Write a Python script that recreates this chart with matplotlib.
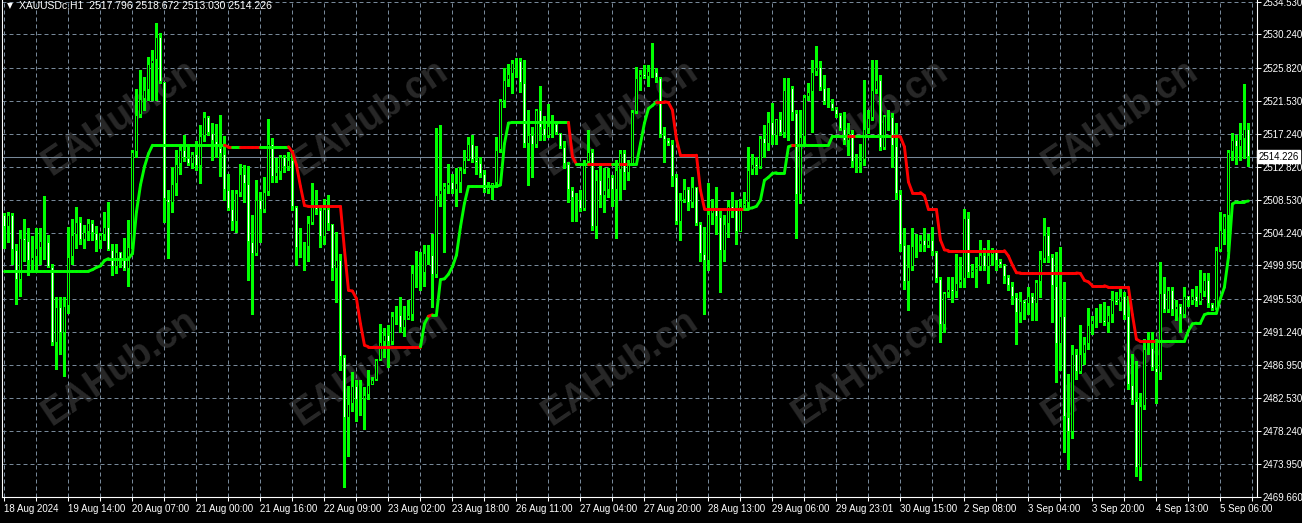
import numpy as np
import matplotlib
matplotlib.use("Agg")
import matplotlib.pyplot as plt
import matplotlib.transforms as mtransforms
from matplotlib.collections import LineCollection

plt.rcParams['font.family'] = ['Liberation Sans', 'DejaVu Sans']

# XAUUSDc H1 candles, one entry per hourly bar (18 Aug 2024 22:00 .. 5 Sep 2024 11:00)
first_open = 2506.5
closes = [
    2505.0, 2506.5, 2502.0, 2498.1, 2503.5, 2503.2, 2500.6, 2501.1, 2502.2, 2503.1,
    2503.0, 2499.8, 2489.8, 2494.5, 2491.1, 2494.7, 2501.1, 2504.0, 2505.6, 2503.3,
    2504.4, 2505.5, 2504.2, 2503.2, 2503.9, 2505.0, 2502.0, 2499.8, 2501.7, 2500.8,
    2499.5, 2502.4, 2514.8, 2519.7, 2521.8, 2522.9, 2526.4, 2526.9, 2529.9, 2524.0,
    2508.6, 2508.2, 2510.6, 2513.3, 2515.1, 2514.0, 2513.3, 2514.5, 2513.0, 2516.9,
    2519.4, 2517.3, 2516.2, 2515.4, 2514.5, 2509.8, 2507.3, 2505.7, 2509.5, 2511.9,
    2510.6, 2503.0, 2501.5, 2508.5, 2507.2, 2509.6, 2515.9, 2511.6, 2512.2, 2514.2,
    2512.8, 2513.75, 2507.6, 2502.3, 2502.1, 2502.4, 2505.5, 2507.6, 2507.2, 2503.7,
    2507.3, 2505.4, 2499.5, 2500.7, 2487.9, 2480.0, 2481.8, 2484.2, 2482.3, 2482.5,
    2483.0, 2484.3, 2485.0, 2487.6, 2489.9, 2490.9, 2489.9, 2493.3, 2493.4, 2491.8,
    2493.0, 2493.4, 2498.9, 2499.1, 2498.9, 2501.6, 2501.3, 2498.7, 2509.2, 2509.8,
    2510.3, 2510.9, 2509.9, 2510.8, 2512.5, 2513.8, 2515.9, 2513.75, 2513.4, 2512.0,
    2509.8, 2510.2, 2510.7, 2515.1, 2521.5, 2524.2, 2525.1, 2526.5, 2526.7, 2523.9,
    2515.9, 2517.0, 2515.7, 2520.3, 2518.0, 2516.9, 2518.2, 2518.5, 2517.25, 2515.5,
    2513.2, 2509.8, 2508.85, 2508.6, 2507.3, 2513.5, 2514.8, 2505.0, 2511.1, 2509.0,
    2509.8, 2511.5, 2509.9, 2512.4, 2514.7, 2512.1, 2513.3, 2520.1, 2524.5, 2525.1,
    2524.7, 2525.4, 2525.35, 2524.5, 2517.0, 2516.4, 2515.9, 2511.6, 2505.7, 2508.5,
    2510.0, 2508.15, 2510.2, 2505.4, 2501.5, 2500.6, 2506.7, 2507.6, 2506.3, 2501.9,
    2505.4, 2507.8, 2507.2, 2504.3, 2507.8, 2508.15, 2512.4, 2513.2, 2512.9, 2516.6,
    2515.9, 2518.8, 2516.9, 2519.1, 2517.25, 2523.0, 2523.15, 2519.9, 2509.2, 2516.8,
    2522.06, 2522.7, 2525.3, 2525.9, 2523.15, 2521.4, 2521.3, 2520.5, 2519.7, 2517.8,
    2516.2, 2517.25, 2513.5, 2513.4, 2513.8, 2517.8, 2519.3, 2523.0, 2524.2, 2515.4,
    2519.5, 2519.4, 2515.6, 2509.3, 2502.6, 2497.8, 2499.7, 2502.5, 2502.6, 2503.3,
    2502.5, 2503.25, 2501.7, 2498.2, 2492.1, 2496.3, 2496.9, 2496.5, 2497.6, 2498.2,
    2506.2, 2498.9, 2499.3, 2499.8, 2501.3, 2499.8, 2501.3, 2501.7, 2500.5, 2500.0,
    2498.4, 2497.2, 2495.8, 2493.7, 2495.3, 2494.9, 2495.9, 2494.9, 2497.8, 2500.85,
    2504.0, 2501.0, 2497.2, 2489.7, 2493.3, 2480.1, 2478.2, 2488.4, 2486.0, 2488.4,
    2489.7, 2492.1, 2492.8, 2492.96, 2492.8, 2492.4, 2493.4, 2495.4, 2495.0, 2495.9,
    2493.3, 2484.3, 2482.2, 2473.4, 2481.6, 2489.0, 2489.2, 2486.5, 2485.8, 2496.3,
    2494.1, 2496.8, 2494.1, 2494.7, 2493.5, 2495.9, 2495.3, 2495.9, 2495.15, 2496.5,
    2498.1, 2494.9, 2494.3, 2502.0, 2504.6, 2506.4, 2514.8, 2516.4, 2515.5, 2516.5,
    2517.796, 2514.226,
]
highs = [
    2506.8, 2506.9, 2506.8, 2502.8, 2504.6, 2506.0, 2504.8, 2503.8, 2504.8, 2504.8,
    2509.0, 2504.0, 2500.1, 2495.8, 2495.8, 2495.8, 2505.0, 2506.0, 2507.6, 2506.3,
    2505.2, 2506.1, 2505.9, 2505.1, 2504.2, 2507.0, 2508.3, 2502.8, 2502.8, 2501.5,
    2503.6, 2505.9, 2515.1, 2523.1, 2525.6, 2524.7, 2527.3, 2528.2, 2531.7, 2530.4,
    2524.0, 2509.8, 2512.9, 2515.1, 2515.9, 2517.0, 2515.7, 2514.8, 2516.2, 2518.3,
    2520.1, 2519.5, 2518.6, 2518.5, 2519.7, 2516.9, 2512.0, 2509.8, 2509.8, 2513.3,
    2513.1, 2513.0, 2506.5, 2511.1, 2509.6, 2511.6, 2519.2, 2516.6, 2514.0, 2514.4,
    2514.4, 2514.8, 2515.1, 2507.8, 2504.8, 2503.0, 2506.4, 2510.7, 2509.9, 2507.6,
    2508.6, 2509.2, 2505.4, 2504.3, 2501.5, 2488.2, 2484.2, 2486.0, 2484.9, 2484.9,
    2484.0, 2486.2, 2485.3, 2487.7, 2492.3, 2491.7, 2492.1, 2493.8, 2494.6, 2495.8,
    2494.7, 2495.4, 2500.0, 2501.9, 2501.7, 2502.6, 2502.6, 2504.1, 2517.9, 2518.4,
    2510.7, 2513.2, 2512.0, 2512.7, 2512.9, 2515.1, 2516.8, 2517.0, 2515.6, 2514.2,
    2512.4, 2510.9, 2510.8, 2516.8, 2521.8, 2525.8, 2526.4, 2526.9, 2527.1, 2527.1,
    2526.9, 2520.3, 2518.1, 2520.5, 2523.5, 2519.5, 2521.1, 2519.6, 2518.1, 2517.3,
    2516.2, 2513.5, 2510.2, 2509.4, 2509.8, 2513.75, 2517.7, 2515.2, 2512.5, 2513.1,
    2512.7, 2512.7, 2511.8, 2513.75, 2515.1, 2515.1, 2513.75, 2520.3, 2526.0, 2525.6,
    2526.2, 2526.2, 2529.1, 2525.8, 2524.7, 2518.1, 2516.6, 2516.4, 2512.0, 2509.4,
    2511.3, 2510.2, 2511.6, 2510.2, 2505.7, 2505.0, 2510.7, 2508.7, 2510.2, 2507.2,
    2506.5, 2508.5, 2509.6, 2508.5, 2508.7, 2509.6, 2515.5, 2514.6, 2514.2, 2516.9,
    2518.3, 2520.0, 2521.2, 2519.2, 2520.1, 2524.5, 2524.5, 2523.4, 2520.3, 2520.3,
    2522.3, 2523.9, 2526.9, 2528.7, 2526.7, 2524.9, 2523.15, 2521.8, 2520.7, 2519.9,
    2520.1, 2518.6, 2517.7, 2514.6, 2515.9, 2524.2, 2520.3, 2526.9, 2526.9, 2524.9,
    2519.65, 2520.3, 2519.9, 2518.6, 2509.8, 2504.8, 2502.6, 2504.8, 2504.1, 2503.9,
    2504.8, 2504.1, 2505.0, 2501.9, 2498.4, 2496.5, 2498.4, 2498.4, 2501.5, 2501.1,
    2507.4, 2507.0, 2500.2, 2501.1, 2503.25, 2502.2, 2503.25, 2502.2, 2501.9, 2500.85,
    2500.2, 2498.7, 2497.8, 2496.3, 2496.5, 2495.4, 2497.1, 2496.3, 2498.0, 2501.9,
    2506.2, 2505.0, 2501.5, 2501.7, 2502.4, 2497.8, 2485.7, 2489.5, 2489.0, 2492.1,
    2490.6, 2494.4, 2493.3, 2494.4, 2494.9, 2495.2, 2494.7, 2496.6, 2496.5, 2496.9,
    2496.5, 2496.0, 2488.4, 2487.5, 2483.3, 2490.3, 2491.2, 2491.2, 2490.3, 2500.4,
    2498.4, 2497.1, 2497.1, 2495.4, 2494.9, 2497.1, 2496.0, 2496.9, 2497.2, 2499.3,
    2498.9, 2498.9, 2495.0, 2502.4, 2507.0, 2506.7, 2515.06, 2517.3, 2517.0, 2518.6,
    2523.7, 2518.672,
]
lows = [
    2502.3, 2503.0, 2500.2, 2494.9, 2496.0, 2500.6, 2498.7, 2499.3, 2499.3, 2500.2,
    2500.8, 2499.7, 2489.5, 2486.4, 2488.4, 2485.5, 2493.7, 2500.2, 2502.3, 2502.8,
    2502.3, 2503.3, 2503.3, 2501.9, 2502.3, 2503.3, 2502.0, 2498.7, 2498.9, 2499.8,
    2499.3, 2497.2, 2502.2, 2514.2, 2519.4, 2520.3, 2521.6, 2521.6, 2521.6, 2523.8,
    2505.7, 2500.9, 2507.0, 2509.2, 2511.9, 2513.7, 2513.1, 2512.7, 2512.5, 2510.8,
    2516.2, 2517.0, 2513.8, 2514.2, 2511.7, 2508.5, 2507.2, 2504.6, 2504.3, 2509.0,
    2508.3, 2498.0, 2493.6, 2501.3, 2503.0, 2507.0, 2509.2, 2510.9, 2510.9, 2511.3,
    2512.2, 2512.5, 2507.2, 2500.0, 2501.1, 2499.3, 2500.6, 2505.4, 2506.75, 2502.4,
    2502.8, 2504.6, 2498.0, 2495.2, 2486.2, 2470.9, 2475.0, 2480.9, 2479.6, 2480.3,
    2478.5, 2482.5, 2484.4, 2484.9, 2487.6, 2487.9, 2486.6, 2489.7, 2492.3, 2491.2,
    2490.7, 2493.0, 2492.75, 2497.1, 2496.7, 2497.3, 2500.2, 2494.5, 2498.4, 2507.8,
    2501.7, 2509.4, 2509.5, 2507.8, 2509.6, 2512.1, 2513.75, 2513.5, 2512.0, 2511.6,
    2509.6, 2509.5, 2508.6, 2510.2, 2514.8, 2520.7, 2523.4, 2522.5, 2524.7, 2522.7,
    2515.5, 2510.5, 2511.6, 2515.5, 2516.4, 2516.4, 2516.8, 2516.8, 2517.2, 2515.3,
    2512.7, 2508.3, 2505.8, 2505.8, 2507.1, 2507.2, 2513.3, 2504.6, 2503.5, 2507.6,
    2507.0, 2508.9, 2507.8, 2503.5, 2508.7, 2510.0, 2511.1, 2514.0, 2519.9, 2522.9,
    2524.5, 2523.4, 2524.7, 2524.0, 2516.8, 2513.5, 2515.7, 2510.3, 2505.4, 2503.3,
    2508.3, 2507.2, 2507.6, 2505.2, 2500.6, 2493.6, 2499.3, 2505.4, 2504.1, 2496.5,
    2500.6, 2503.7, 2506.3, 2502.8, 2504.6, 2507.2, 2507.6, 2512.0, 2512.0, 2512.7,
    2514.2, 2515.06, 2515.9, 2515.9, 2517.0, 2516.8, 2516.4, 2519.0, 2503.5, 2508.15,
    2515.7, 2521.6, 2517.5, 2524.9, 2522.9, 2521.1, 2520.7, 2520.3, 2519.4, 2517.7,
    2515.9, 2514.4, 2512.9, 2512.2, 2512.2, 2513.1, 2517.3, 2519.0, 2522.5, 2515.06,
    2515.2, 2517.7, 2512.9, 2508.7, 2501.9, 2496.9, 2494.1, 2499.3, 2501.1, 2501.9,
    2501.9, 2502.4, 2501.3, 2497.8, 2489.9, 2491.2, 2495.8, 2495.2, 2495.8, 2497.1,
    2497.1, 2498.4, 2498.4, 2497.1, 2499.3, 2499.3, 2497.6, 2500.0, 2499.3, 2499.75,
    2497.6, 2496.7, 2494.9, 2489.7, 2492.5, 2493.0, 2493.6, 2492.75, 2492.75, 2495.8,
    2500.4, 2500.4, 2492.5, 2484.7, 2486.2, 2475.5, 2473.3, 2477.4, 2485.1, 2485.8,
    2487.07, 2489.0, 2491.0, 2491.9, 2492.5, 2492.1, 2491.2, 2492.5, 2494.9, 2494.1,
    2493.0, 2483.8, 2481.8, 2472.4, 2471.8, 2481.2, 2488.4, 2486.2, 2482.0, 2485.1,
    2493.8, 2493.8, 2493.4, 2492.75, 2491.2, 2493.2, 2494.7, 2494.9, 2494.7, 2494.9,
    2496.0, 2494.5, 2494.1, 2494.2, 2501.9, 2502.8, 2501.9, 2513.75, 2513.3, 2513.75,
    2514.0, 2513.03,
]
opens = [first_open] + closes[:-1]

# trend line indicator, one value per bar
line_vals = [
    2499.2, 2499.2, 2499.2, 2499.2, 2499.2, 2499.2, 2499.2, 2499.2, 2499.2, 2499.2,
    2499.2, 2499.2, 2499.2, 2499.2, 2499.2, 2499.2, 2499.2, 2499.2, 2499.2, 2499.2,
    2499.2, 2499.2, 2499.4, 2499.7, 2499.9, 2500.6, 2500.85, 2500.85, 2500.85, 2500.85,
    2500.85, 2500.85, 2501.5, 2507.0, 2510.5, 2512.9, 2514.6, 2515.7, 2515.7, 2515.7,
    2515.7, 2515.7, 2515.7, 2515.7, 2515.7, 2515.7, 2515.7, 2515.7, 2515.7, 2515.7,
    2515.7, 2515.7, 2515.7, 2515.7, 2515.7, 2515.7, 2515.5, 2515.5, 2515.5, 2515.5,
    2515.5, 2515.5, 2515.5, 2515.5, 2515.5, 2515.5, 2515.5, 2515.5, 2515.5, 2515.5,
    2515.5, 2515.5, 2514.8, 2513.1, 2510.3, 2507.8, 2507.7, 2507.7, 2507.7, 2507.7,
    2507.7, 2507.7, 2507.7, 2507.7, 2507.7, 2502.0, 2496.7, 2496.6, 2495.6, 2492.3,
    2489.5, 2489.3, 2489.3, 2489.3, 2489.3, 2489.3, 2489.3, 2489.3, 2489.3, 2489.3,
    2489.3, 2489.3, 2489.3, 2489.3, 2489.3, 2492.3, 2493.3, 2493.5, 2493.5, 2498.1,
    2498.2, 2498.8, 2499.8, 2501.3, 2505.0, 2508.1, 2510.3, 2510.3, 2510.3, 2510.3,
    2510.3, 2510.3, 2510.3, 2510.3, 2510.5, 2515.9, 2518.6, 2518.7, 2518.7, 2518.7,
    2518.7, 2518.7, 2518.7, 2518.7, 2518.7, 2518.7, 2518.7, 2518.7, 2518.7, 2518.7,
    2518.7, 2518.7, 2514.2, 2513.2, 2513.2, 2513.2, 2513.2, 2513.2, 2513.2, 2513.2,
    2513.2, 2513.2, 2513.2, 2513.2, 2513.2, 2513.2, 2513.2, 2513.2, 2513.2, 2515.9,
    2518.6, 2520.5, 2520.9, 2521.4, 2521.4, 2521.4, 2521.3, 2520.3, 2516.5, 2514.4,
    2514.4, 2514.4, 2514.4, 2514.4, 2509.8, 2507.4, 2507.4, 2507.4, 2507.4, 2507.4,
    2507.4, 2507.4, 2507.4, 2507.4, 2507.4, 2507.4, 2507.4, 2507.5, 2507.7, 2508.5,
    2511.1, 2511.5, 2512.0, 2512.1, 2512.1, 2512.1, 2515.5, 2515.7, 2515.7, 2515.7,
    2515.7, 2515.7, 2515.7, 2515.7, 2515.7, 2515.7, 2515.7, 2516.9, 2516.9, 2516.9,
    2516.9, 2516.9, 2516.9, 2516.9, 2516.9, 2516.9, 2516.9, 2516.9, 2516.9, 2516.9,
    2516.9, 2516.9, 2516.9, 2516.9, 2516.8, 2515.5, 2510.9, 2509.5, 2509.5, 2509.5,
    2509.1, 2507.3, 2507.3, 2507.3, 2503.3, 2502.0, 2501.9, 2501.9, 2501.9, 2501.9,
    2501.9, 2501.9, 2501.9, 2501.9, 2501.9, 2501.9, 2501.9, 2501.9, 2501.9, 2501.9,
    2501.9, 2501.2, 2500.0, 2499.0, 2498.97, 2498.97, 2498.97, 2498.97, 2498.97, 2498.97,
    2498.97, 2498.97, 2498.97, 2498.97, 2498.97, 2498.97, 2498.97, 2498.97, 2498.97, 2498.9,
    2498.0, 2497.8, 2497.3, 2497.3, 2497.3, 2497.3, 2497.1, 2497.1, 2497.1, 2497.1,
    2497.1, 2497.1, 2493.5, 2490.3, 2490.0, 2490.0, 2490.0, 2490.0, 2490.0, 2490.0,
    2490.0, 2490.0, 2490.0, 2490.0, 2490.0, 2490.0, 2491.4, 2492.3, 2492.4, 2492.4,
    2493.5, 2493.7, 2493.7, 2493.7, 2495.6, 2497.1, 2501.0, 2508.0, 2508.3, 2508.3,
    2508.3, 2508.4,
]
# colour state of the trend line per bar: G = up (green), R = down (red)
line_state = (
    "GGGGGGGGGG" "GGGGGGGGGG" "GGGGGGGGGG" "GGGGGGGGGG" "GGGGGGGGGG"
    "GGGGGGRRGG" "RRRRRGGGGG" "GGRRRRRRRR" "RRRRRRRRRR" "RRRRRRRRRR"
    "RRRRRGGRGG" "GGGGGGGGGG" "GGGGGGGGGG" "GGGGGGGGGG" "GGRRGGGRRR"
    "RRRGGRRGGG" "GGGGRRRRRR" "RRRRRRRRRR" "RRRRRRGGGG" "GGGGGGGGRG"
    "GGGGGGGGGG" "GGRRGGGGGG" "GGGRRRRRRR" "RRRRRRRRRR" "RRRRRRRRRR"
    "RRRRRRRRRR" "RRRRRRRRRR" "RRRRRRRRRR" "RRRRRRRRRG" "GGGGGGGGGG"
    "GGGGGGGGGG" "GG"
)

price_ticks = [2469.660, 2473.950, 2478.240, 2482.530, 2486.950, 2491.240, 2495.530,
               2499.950, 2504.240, 2508.530, 2512.820, 2517.240, 2521.530, 2525.820,
               2530.240, 2534.530]
time_labels = ["18 Aug 2024", "19 Aug 14:00", "20 Aug 07:00", "21 Aug 00:00",
               "21 Aug 16:00", "22 Aug 09:00", "23 Aug 02:00", "23 Aug 18:00",
               "26 Aug 11:00", "27 Aug 04:00", "27 Aug 20:00", "28 Aug 13:00",
               "29 Aug 06:00", "29 Aug 23:01", "30 Aug 15:00", "2 Sep 08:00",
               "3 Sep 04:00", "3 Sep 20:00", "4 Sep 13:00", "5 Sep 06:00"]
last_price = 2514.226
header = "XAUUSDc,H1  2517.796 2518.672 2513.030 2514.226"

GREEN = '#00ff00'
RED = '#ff0000'
GRID = '#778899'

W, H = 1302, 523
fig = plt.figure(figsize=(W / 100, H / 100), dpi=100, facecolor='black')
ax = fig.add_axes([2 / W, 26 / H, (1256.7 - 2) / W, 497 / H])
ax.set_facecolor('black')

# bar centres fall on pixel centres (4 px per bar)
ax.set_xlim(-0.625, 313.075)
ax.set_ylim(2469.62, 2534.73)
px = (2534.73 - 2469.62) / 497   # price per screen pixel

n = len(closes)
x = np.arange(n)
o = np.array(opens)
c = np.array(closes)
up = c >= o
body_lo = np.minimum(o, c)
body_h = np.abs(c - o)

# candles: wick, green outline block, then white (bear) / black (bull) inside
ax.vlines(x, lows, highs, color=GREEN, lw=0.75, zorder=2, antialiased=False)
ax.bar(x, np.maximum(body_h, px), bottom=body_lo, width=0.75, color=GREEN,
       linewidth=0, zorder=3, antialiased=False)
inner_h = np.clip(body_h - 2 * px, 0, None)
ax.bar(x, inner_h, bottom=body_lo + px, width=0.25,
       color=np.where(up, 'black', 'white'), linewidth=0, zorder=3.5,
       antialiased=False)

# trend line, coloured per segment
segs = [[(i - 1, line_vals[i - 1]), (i, line_vals[i])] for i in range(1, n)]
cols = [GREEN if line_state[i] == 'G' else RED for i in range(1, n)]
ax.add_collection(LineCollection(segs, colors=cols, linewidths=2.1,
                                 capstyle='round', zorder=4))

# current price line
ax.axhline(last_price, color=GRID, lw=0.75, zorder=1.5)

# axes / grid
ax.set_axisbelow(True)
ax.set_xticks(np.arange(0, 16 * len(time_labels), 16))
ax.set_xticks(np.arange(8, 16 * len(time_labels) + 8, 16), minor=True)
ax.set_xticklabels(time_labels, ha='left')
ax.yaxis.tick_right()
ax.set_yticks(price_ticks)
ax.set_yticklabels([f"{p:.3f}" for p in price_ticks])
ax.tick_params(axis='y', which='major', colors='white', length=3, width=0.75,
               labelsize=7, pad=1.5)
ax.tick_params(axis='x', which='both', colors='white', length=3, width=0.75,
               labelsize=7, pad=2)
ax.grid(True, axis='x', which='both', color=GRID, linestyle=(0, (4, 3)), linewidth=0.72)
ax.grid(True, axis='y', which='major', color=GRID, linestyle=(0, (4, 3)), linewidth=0.72)
for side in ['left', 'right', 'bottom']:
    ax.spines[side].set_color('white')
    ax.spines[side].set_linewidth(0.8)
ax.spines['top'].set_visible(False)

# last price tag on the price scale
trans = mtransforms.blended_transform_factory(ax.transAxes, ax.transData)
ax.text(1.0 + 1.5 / ax.get_position().width / W, last_price, f"{last_price:.3f}",
        transform=trans, color='black', fontsize=7, va='center', ha='left',
        bbox=dict(boxstyle='square,pad=0.15', fc='white', ec='white'),
        zorder=10, clip_on=False)

# watermark
for wx in [120, 370, 620, 870, 1120]:
    for wy in [118, 368]:
        ax.text(wx / W, 1 - wy / H, "EAHub.cn", transform=fig.transFigure,
                rotation=34, color='#282828', fontsize=27, fontweight='bold',
                ha='center', va='center', zorder=0.1, rotation_mode='anchor')

# header
fig.text(10 / W, 1 - 6 / H, "\u25bc", color='white', fontsize=5.5, ha='center',
         va='center', family='DejaVu Sans')
fig.text(19 / W, 1 - 6 / H, header, color='white', fontsize=7.5, ha='left', va='center')

fig.savefig('out.png', dpi=100, facecolor='black')
